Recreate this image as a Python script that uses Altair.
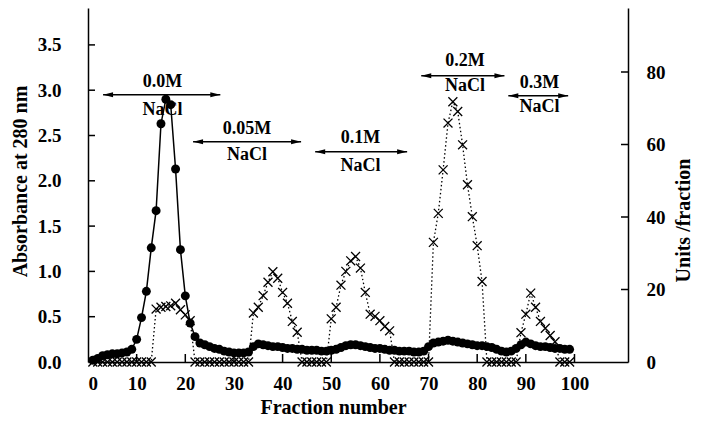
import altair as alt
import pandas as pd

# ---------------- data ----------------
fraction = list(range(1, 100))

absorbance = [
    0.02, 0.04, 0.07, 0.08, 0.09, 0.09, 0.10, 0.11, 0.14, 0.25,
    0.49, 0.78, 1.26, 1.67, 2.63, 2.90, 2.84, 2.13, 1.24, 0.73,
    0.43, 0.28, 0.21, 0.19, 0.17, 0.15, 0.14, 0.12, 0.11, 0.10,
    0.10, 0.10, 0.11, 0.17, 0.20, 0.19, 0.18, 0.17, 0.17, 0.16,
    0.15, 0.15, 0.14, 0.14, 0.13, 0.13, 0.13, 0.12, 0.12, 0.13,
    0.14, 0.16, 0.18, 0.19, 0.19, 0.18, 0.17, 0.16, 0.15, 0.15,
    0.14, 0.13, 0.13, 0.12, 0.12, 0.12, 0.11, 0.11, 0.12, 0.17,
    0.21, 0.22, 0.23, 0.24, 0.23, 0.22, 0.21, 0.20, 0.19, 0.18,
    0.18, 0.17, 0.16, 0.14, 0.12, 0.11, 0.12, 0.15, 0.19, 0.22,
    0.20, 0.18, 0.17, 0.17, 0.16, 0.15, 0.15, 0.14, 0.14,
]

activity = (
    [0] * 13
    + [14.6, 15.1, 15.3, 15.5, 16.2, 14.4, 13.0, 11.4]
    + [0] * 12
    + [13.5, 15.1, 18.3, 22.0, 24.9, 23.1, 19.2, 16.2, 11.2, 8.2]
    + [0] * 6
    + [11.9, 15.1, 21.2, 25.0, 27.9, 29.1, 25.9, 19.2, 13.2, 12.6, 11.4, 9.8, 8.6]
    + [0] * 8
    + [33.0, 41.0, 53.0, 65.9, 71.8, 69.1, 59.9, 48.9, 40.1, 32.1, 22.2]
    + [0] * 7
    + [8.1, 13.2, 19.0, 15.1, 11.2, 9.3, 7.3, 5.6]
    + [0] * 3
)

x_tick_labels = [0, 10, 20, 30, 40, 50, 60, 70, 80, 90, 100]
x_ticks = [10, 20, 30, 40, 50, 60, 70, 80, 90, 100]
abs_tick_labels = [0.0, 0.5, 1.0, 1.5, 2.0, 2.5, 3.0, 3.5]
abs_ticks = [0.5, 1.0, 1.5, 2.0, 2.5, 3.0, 3.5]
act_tick_labels = [0, 20, 40, 60, 80]
act_ticks = [20, 40, 60, 80]

salt_top = ["0.0M", "0.05M", "0.1M", "0.2M", "0.3M"]
salt_bottom = ["NaCl", "NaCl", "NaCl", "NaCl", "NaCl"]
salt_x = [15.3, 32.7, 56.0, 77.5, 92.8]
salt_top_y = [3.09, 2.57, 2.47, 3.32, 3.08]
salt_bottom_y = [2.78, 2.28, 2.16, 3.05, 2.81]
arrow_x1 = [3.1, 21.6, 46.7, 68.5, 86.4]
arrow_x2 = [27.2, 43.8, 65.6, 85.6, 98.7]
arrow_y = [2.95, 2.43, 2.32, 3.16, 2.94]

# ---------------- layout ----------------
W, H = 540, 354
XMAX = 111
AMAX = H / 90.6
UMAX = H / 3.625
FONT = "Liberation Serif"

df = pd.DataFrame({"f": fraction, "a": absorbance, "u": activity})
ann = pd.DataFrame({
    "tx": salt_x, "top": salt_top, "bot": salt_bottom,
    "ty": salt_top_y, "by": salt_bottom_y,
    "x1": arrow_x1, "x2": arrow_x2, "ay": arrow_y,
})

xs = alt.Scale(domain=[0, XMAX], nice=False, zero=False)
ya = alt.Scale(domain=[0, AMAX], nice=False)
yu = alt.Scale(domain=[0, UMAX], nice=False)

x_axis = alt.Axis(
    values=x_tick_labels, format="d", ticks=False, grid=False,
    labelFont=FONT, labelFontWeight="bold", labelFontSize=19, labelColor="black",
    labelPadding=12, domainColor="black", domainWidth=1.5,
    title="Fraction number", titleFont=FONT, titleFontWeight="bold",
    titleFontSize=20, titleColor="black", titleX=245, titleY=51,
    titleBaseline="alphabetic", titleAlign="center",
)
left_axis = alt.Axis(
    values=abs_tick_labels, format=".1f", ticks=False, grid=False,
    labelFont=FONT, labelFontWeight="bold", labelFontSize=19, labelColor="black",
    labelPadding=27, domainColor="black", domainWidth=1.5,
    title="Absorbance at 280 nm", titleFont=FONT, titleFontWeight="bold",
    titleFontSize=20, titleColor="black", titleAngle=270, titleX=-62, titleY=173,
    titleBaseline="alphabetic", titleAlign="center",
)
right_axis = alt.Axis(
    values=act_tick_labels, format="d", ticks=False, grid=False,
    labelFont=FONT, labelFontWeight="bold", labelFontSize=19, labelColor="black",
    labelPadding=18, domainColor="black", domainWidth=1.5,
    title="Units /fraction", titleFont=FONT, titleFontWeight="bold",
    titleFontSize=20, titleColor="black", titleAngle=270, titleX=61, titleY=212,
    titleBaseline="alphabetic", titleAlign="center",
)

X = lambda field: alt.X(field, scale=xs, axis=x_axis)
YA = lambda field: alt.Y(field, scale=ya, axis=left_axis)
YU = lambda field: alt.Y(field, scale=yu, axis=right_axis)

base = alt.Chart(df)

abs_line = base.mark_line(color="black", strokeWidth=1.5).encode(x=X("f:Q"), y=YA("a:Q"))
abs_pts = base.mark_point(shape="circle", filled=True, size=80, color="black", opacity=1).encode(
    x=X("f:Q"), y=YA("a:Q"))
left_ticks = alt.Chart(pd.DataFrame({"t": abs_ticks})).mark_rule(color="black", strokeWidth=1.5).encode(
    y=YA("t:Q"), x=alt.value(0), x2=alt.value(7))
bottom_ticks = alt.Chart(pd.DataFrame({"t": x_ticks})).mark_rule(color="black", strokeWidth=1.5).encode(
    x=X("t:Q"), y=alt.value(H), y2=alt.value(H - 8))

abase = alt.Chart(ann)
arrows = abase.mark_rule(color="black", strokeWidth=1.5).encode(x=X("x1:Q"), x2="x2:Q", y=YA("ay:Q"))
head_l = abase.mark_point(shape="M0,0L2,-0.5L2,0.5Z", filled=True, size=100, color="black", opacity=1).encode(
    x=X("x1:Q"), y=YA("ay:Q"))
head_r = abase.mark_point(shape="M0,0L-2,-0.5L-2,0.5Z", filled=True, size=100, color="black", opacity=1).encode(
    x=X("x2:Q"), y=YA("ay:Q"))
txt_top = abase.mark_text(font=FONT, fontWeight="bold", fontSize=18, color="black", baseline="middle").encode(
    x=X("tx:Q"), y=YA("ty:Q"), text="top:N")
txt_bot = abase.mark_text(font=FONT, fontWeight="bold", fontSize=18, color="black", baseline="middle").encode(
    x=X("tx:Q"), y=YA("by:Q"), text="bot:N")

left_group = alt.layer(abs_line, abs_pts, left_ticks, bottom_ticks, arrows, head_l, head_r, txt_top, txt_bot)

act_line = base.mark_line(color="black", strokeWidth=1.3, strokeDash=[1.5, 2.5]).encode(
    x=X("f:Q"), y=YU("u:Q"))
act_pts = base.mark_point(shape="M-1,-1L1,1M1,-1L-1,1", filled=False, size=80, color="black",
                          strokeWidth=1.3, opacity=1).encode(x=X("f:Q"), y=YU("u:Q"))
right_ticks = alt.Chart(pd.DataFrame({"t": act_ticks})).mark_rule(color="black", strokeWidth=1.5).encode(
    y=YU("t:Q"), x=alt.value(W - 7), x2=alt.value(W))

right_group = alt.layer(act_line, act_pts, right_ticks)

chart = alt.layer(left_group, right_group).resolve_scale(y="independent").properties(
    width=W, height=H,
    padding={"left": 80, "top": 0, "right": 65, "bottom": 54},
    autosize=alt.AutoSizeParams(type="none"),
    background="white",
).configure_view(stroke=None)

chart.save("out.html", embed_options={"renderer": "svg", "actions": False})
